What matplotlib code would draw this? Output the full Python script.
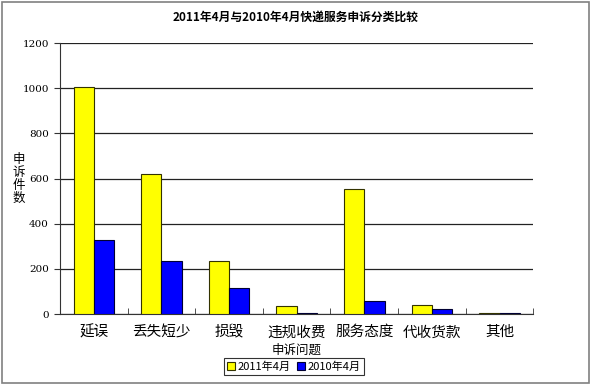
import numpy as np
import matplotlib
matplotlib.use('Agg')
from matplotlib import pyplot as plt
from matplotlib.patches import Rectangle

plt.rcParams['font.family'] = ['Noto Sans CJK SC', 'DejaVu Sans']

categories = ['延误', '丢失短少', '损毁', '违规收费', '服务态度', '代收货款', '其他']
apr_2011 = [1004, 620, 237, 36, 552, 40, 5]
apr_2010 = [327, 237, 117, 6, 60, 21, 5]
series_names = ['2011年4月', '2010年4月']
yticks = [0, 200, 400, 600, 800, 1000, 1200]

fig = plt.figure(figsize=(5.91, 3.85), dpi=100)
# outer frame
fig.patches.append(Rectangle((0.003, 0.004), 0.994, 0.992, transform=fig.transFigure,
                             fill=False, edgecolor='#808080', linewidth=1.2))
ax = fig.add_axes([0.1015, 0.184, 0.801, 0.704])

x = np.arange(len(categories))
w = 0.3
ax.bar(x - w / 2, apr_2011, w, color='#FFFF00', edgecolor='#333300', linewidth=0.8,
       label=series_names[0], zorder=3)
ax.bar(x + w / 2, apr_2010, w, color='#0000FF', edgecolor='#000033', linewidth=0.8,
       label=series_names[1], zorder=3)

ax.set_xlim(-0.5, len(categories) - 0.5)
ax.set_ylim(0, 1200)
ax.set_yticks(yticks)
ax.set_yticklabels([str(v) for v in yticks], fontsize=7.5, family='DejaVu Serif')
ax.yaxis.grid(True, color='#222222', linewidth=0.9, zorder=0)
ax.set_xticks(x)
ax.set_xticklabels(categories, fontsize=10.5)
ax.set_xticks(np.arange(len(categories) + 1) - 0.5, minor=True)
ax.tick_params(axis='x', which='major', length=0, pad=8)
ax.tick_params(axis='x', which='minor', direction='in', length=4, color='#333333')
ax.tick_params(axis='y', direction='out', length=4, color='#333333', pad=4)
for s in ['top', 'right']:
    ax.spines[s].set_visible(False)
ax.spines['left'].set_color('#333333')
ax.spines['bottom'].set_color('#333333')

ax.set_xlabel('申诉问题', fontsize=9, labelpad=3)
fig.text(0.032, 0.535, '申\n诉\n件\n数', fontsize=9, ha='center', va='center', linespacing=1.0)
fig.text(0.5, 0.955, '2011年4月与2010年4月快递服务申诉分类比较', fontsize=8.5,
         fontweight='bold', ha='center', va='center')

leg = fig.legend(loc='center', bbox_to_anchor=(0.497, 0.047), ncol=2, fontsize=8,
                 frameon=True, fancybox=False, edgecolor='black', handlelength=0.7,
                 handleheight=0.7, handletextpad=0.2, columnspacing=0.6,
                 borderpad=0.3, borderaxespad=0)
leg.get_frame().set_linewidth(0.8)

fig.savefig('out.png', dpi=100)
